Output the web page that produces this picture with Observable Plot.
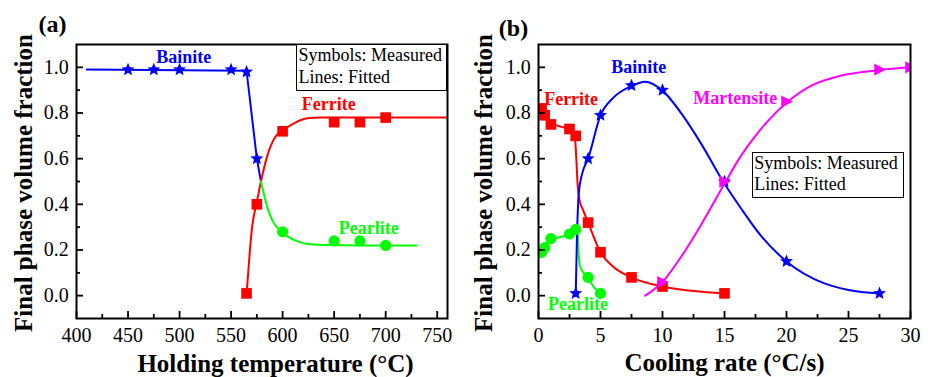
<!DOCTYPE html>
<html>
<head>
<meta charset="utf-8">
<script src="https://cdn.jsdelivr.net/npm/d3@7"></script>
<script src="https://cdn.jsdelivr.net/npm/@observablehq/plot@0.6"></script>
<style>
html,body{margin:0;padding:0;background:#fff;}
#chart{position:relative;width:933px;height:377px;overflow:hidden;background:#fff;}
#chart svg{position:absolute;top:0;}
.box{position:absolute;box-sizing:border-box;border:1.5px solid #000;background:#fff;font-family:"Liberation Serif","Times New Roman",serif;font-size:18px;line-height:21.6px;color:#000;white-space:nowrap;padding:0 0 0 1.5px;}
</style>
</head>
<body>
<div id="chart"></div>
<script>
// ---------------- data ----------------
// (a) Holding temperature (°C) -> final phase volume fraction
const aBainiteMeasured  = [[450,0.99],[475,0.99],[500,0.99],[550,0.99],[565,0.98],[575,0.60]];
const aBainiteFitted    = [[410,0.99],[565,0.985],[575,0.60],[579,0.50]];
const aFerriteMeasured  = [[565,0.01],[575,0.40],[600,0.72],[650,0.76],[675,0.76],[700,0.78]];
const aFerriteFitted    = [[565,0.0],[570.4,0.30],[575,0.41],[579,0.50],[585,0.61],[593,0.696],[599,0.72],[611,0.755],[624,0.777],[637,0.78],[680,0.78],[760,0.78]];
const aPearliteMeasured = [[600,0.28],[650,0.24],[675,0.24],[700,0.22]];
const aPearliteFitted   = [[579,0.50],[585,0.39],[590,0.33],[599,0.28],[611,0.244],[624,0.226],[637,0.222],[680,0.22],[730,0.22]];

// (b) Cooling rate (°C/s) -> final phase volume fraction
const bFerriteMeasured    = [[0.25,0.82],[0.5,0.79],[1,0.75],[2.5,0.73],[3,0.70],[4,0.32],[5,0.19],[7.5,0.08],[10,0.04],[15,0.01]];
const bFerriteFitted      = [[0.25,0.82],[0.5,0.79],[1,0.757],[2,0.737],[2.5,0.727],[2.9,0.71],[3.05,0.60],[3.15,0.49],[3.3,0.42],[3.6,0.375],[4,0.32],[5,0.19],[6,0.128],[7.5,0.08],[10,0.04],[12.5,0.02],[15,0.01]];
const bPearliteMeasured   = [[0.25,0.19],[0.5,0.21],[1,0.25],[2.5,0.27],[3,0.29],[4,0.08],[5,0.01]];
const bPearliteFitted     = [[0.1,0.17],[0.25,0.19],[0.5,0.215],[1,0.245],[2,0.26],[2.5,0.27],[3,0.285],[3.15,0.30],[3.2,0.22],[3.35,0.13],[3.7,0.095],[4,0.075],[4.5,0.035],[5,0.008]];
const bBainiteMeasured    = [[3,0.01],[4,0.60],[5,0.79],[7.5,0.92],[10,0.90],[15,0.50],[20,0.15],[27.5,0.01]];
const bBainiteFitted      = [[3,0.0],[3.1,0.25],[3.25,0.45],[3.5,0.53],[4,0.60],[5,0.79],[6,0.865],[7.5,0.918],[8.6,0.937],[10,0.898],[11.7,0.784],[13.1,0.667],[15,0.49],[16.3,0.385],[17.9,0.265],[20,0.15],[23,0.055],[25,0.025],[27.5,0.01]];
const bMartensiteMeasured = [[10,0.06],[15,0.50],[20,0.85],[27.5,0.99],[30,1.0]];
const bMartensiteFitted   = [[8.6,0.0],[10,0.06],[11.5,0.17],[13,0.30],[15,0.49],[16.3,0.61],[17.5,0.70],[20,0.845],[22,0.92],[24.5,0.965],[27.5,0.988],[30,1.0]];

// axis ticks
const aXTicks = [400,450,500,550,600,650,700,750];
const aXMinor = [425,475,525,575,625,675,725];
const bXTicks = [0,5,10,15,20,25,30];
const bXMinor = [2.5,7.5,12.5,17.5,22.5,27.5];
const yTicks  = [0,0.2,0.4,0.6,0.8,1.0];
const yMinor  = [0.1,0.3,0.5,0.7,0.9];

// text
const aPhaseLabels = [["Bainite",504,1.02],["Ferrite",644.7,0.813],["Pearlite",683.5,0.27]];
const bPhaseLabels = [["Bainite",8.08,0.974],["Ferrite",2.63,0.835],["Martensite",15.87,0.838],["Pearlite",3.18,-0.063]];
const yTitle = "Final phase volume fraction";
const aXTitle = "Holding temperature (\u00B0C)";
const bXTitle = "Cooling rate (\u00B0C/s)";
const legendLines = ["Symbols: Measured", "Lines: Fitted"];

// ---------------- drawing ----------------
const FONT = '"Liberation Serif","Times New Roman",serif';
const COL = {Bainite:"#0000ff", Ferrite:"#ff0000", Pearlite:"#00ff00", Martensite:"#ff00ff"};
const triRight = {draw(ctx, size){ const s = Math.sqrt(size)*1.1; ctx.moveTo(s*0.55,0); ctx.lineTo(-s*0.45,-s*0.52); ctx.lineTo(-s*0.45,s*0.52); ctx.closePath(); }};
const fatStar = {draw(ctx, size){
  const R = Math.sqrt(size/Math.PI)*1.75, r0 = R*0.45;
  for (let i = 0; i < 10; i++) {
    const a = -Math.PI/2 + i*Math.PI/5, rr = i % 2 ? r0 : R;
    const px = rr*Math.cos(a), py = rr*Math.sin(a);
    if (i) ctx.lineTo(px, py); else ctx.moveTo(px, py);
  }
  ctx.closePath();
}};
const SYM = {Bainite:{symbol:fatStar, r:3.9}, Ferrite:{symbol:"square", r:6.0}, Pearlite:{symbol:"circle", r:5.6}, Martensite:{symbol:triRight, r:6.0}};

function panel(o) {
  const marks = [];
  for (const s of o.series) {
    marks.push(Plot.line(s.fit, {x: d => d[0], y: d => d[1], stroke: COL[s.name], strokeWidth: 2, curve: s.curve || "monotone-x", clip: true}));
  }
  for (const s of o.series) {
    marks.push(Plot.dot(s.measured, {x: d => d[0], y: d => d[1], symbol: SYM[s.name].symbol, r: SYM[s.name].r, fill: COL[s.name], stroke: "none", clip: true}));
  }
  marks.push(Plot.text(o.labels, {x: d => d[1], y: d => d[2], text: d => d[0], fill: d => COL[d[0]], fontWeight: "bold", fontSize: 18, fontFamily: FONT, textAnchor: "middle", lineAnchor: "bottom"}));
  marks.push(Plot.frame({stroke: "#000", strokeWidth: 2}));
  marks.push(Plot.axisX(o.xTicks, {anchor: "bottom", tickSize: -7, tickPadding: 16.6, fontSize: 20, fontFamily: FONT, color: "#000", strokeWidth: 1.8, label: null, tickFormat: d => String(d)}));
  marks.push(Plot.axisX(o.xMinor, {anchor: "bottom", tickSize: -4, color: "#000", strokeWidth: 1.8, label: null, tickFormat: () => ""}));
  marks.push(Plot.axisY(yTicks, {anchor: "left", tickSize: -7, tickPadding: 14.7, fontSize: 20, fontFamily: FONT, color: "#000", strokeWidth: 1.8, label: null, tickFormat: d3.format(".1f")}));
  marks.push(Plot.axisY(yMinor, {anchor: "left", tickSize: -4, color: "#000", strokeWidth: 1.8, label: null, tickFormat: () => ""}));
  marks.push(Plot.text([o.xTitle], {text: d => d, frameAnchor: "bottom", dx: o.xTitleDx, dy: o.xTitleDy, fontSize: 25, fontWeight: "bold", fontFamily: FONT, fill: "#000", textAnchor: "middle", lineAnchor: "bottom"}));
  marks.push(Plot.text([yTitle], {text: d => d, frameAnchor: "left", dx: o.yTitleDx, dy: 1.5, rotate: -90, fontSize: 25, fontWeight: "bold", fontFamily: FONT, fill: "#000", textAnchor: "middle", lineAnchor: "bottom"}));
  marks.push(Plot.text([o.tag], {text: d => d, frameAnchor: "top-left", dx: o.tagDx, dy: o.tagDy, fontSize: 24, fontWeight: "bold", fontFamily: FONT, fill: "#000", textAnchor: "start", lineAnchor: "bottom"}));
  return Plot.plot({
    width: o.width, height: 377,
    marginLeft: o.marginLeft, marginRight: o.marginRight, marginTop: 44, marginBottom: 59,
    x: {domain: o.xDomain},
    y: {domain: [-0.1, 1.1]},
    style: {fontFamily: FONT, color: "#000", background: "transparent", overflow: "visible"},
    marks
  });
}

const chart = document.getElementById("chart");
const left = panel({
  width: 467, marginLeft: 76, marginRight: 20, xDomain: [400, 760],
  xTicks: aXTicks, xMinor: aXMinor,
  series: [
    {name: "Bainite", measured: aBainiteMeasured, fit: aBainiteFitted, curve: "linear"},
    {name: "Ferrite", measured: aFerriteMeasured, fit: aFerriteFitted},
    {name: "Pearlite", measured: aPearliteMeasured, fit: aPearliteFitted}
  ],
  labels: aPhaseLabels, xTitle: aXTitle, xTitleDx: 13.5, xTitleDy: 53, yTitleDx: -45, tag: "(a)", tagDx: -38, tagDy: -13
});
left.style.left = "0px";
chart.appendChild(left);

const right = panel({
  width: 466, marginLeft: 71, marginRight: 23, xDomain: [0, 30],
  xTicks: bXTicks, xMinor: bXMinor,
  series: [
    {name: "Ferrite", measured: bFerriteMeasured, fit: bFerriteFitted},
    {name: "Pearlite", measured: bPearliteMeasured, fit: bPearliteFitted},
    {name: "Bainite", measured: bBainiteMeasured, fit: bBainiteFitted},
    {name: "Martensite", measured: bMartensiteMeasured, fit: bMartensiteFitted}
  ],
  labels: bPhaseLabels, xTitle: bXTitle, xTitleDx: 0, xTitleDy: 52, yTitleDx: -47, tag: "(b)", tagDx: -39.7, tagDy: -9
});
right.style.left = "467px";
chart.appendChild(right);

function legendBox(left, top, width, height) {
  const div = document.createElement("div");
  div.className = "box";
  Object.assign(div.style, {left: left + "px", top: top + "px", width: width + "px", height: height + "px"});
  div.innerHTML = legendLines.map(t => `<div>${t}</div>`).join("");
  chart.appendChild(div);
}
legendBox(296, 44, 151, 47);
legendBox(751.7, 151.7, 152.3, 46);
</script>
</body>
</html>
